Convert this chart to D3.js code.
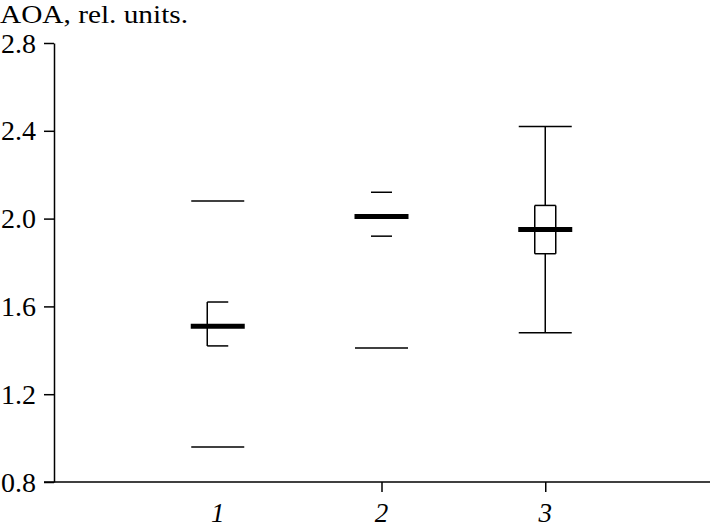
<!DOCTYPE html>
<html>
<head>
<meta charset="utf-8">
<script src="https://cdn.jsdelivr.net/npm/d3@7"></script>
<style>
  html, body { margin: 0; padding: 0; background: #fff; }
  svg { display: block; }
</style>
</head>
<body>
<svg id="chart" width="710" height="528"></svg>
<script>
// ---- data ----
const categories  = ["1", "2", "3"];
const whiskerLow  = [0.96, 1.41, 1.48];
const q1          = [1.42, 1.92, 1.84];
const median      = [1.51, 2.01, 1.95];
const q3          = [1.62, 2.12, 2.06];
const whiskerHigh = [2.08, null, 2.42];
// which parts of each box are drawn in the original
const boxLeft     = [true, false, true];
const boxRight    = [false, false, true];
const stems       = [false, false, true];
const yTicks      = [0.8, 1.2, 1.6, 2.0, 2.4, 2.8];
const xTicked     = [2, 3];
const yTitle      = "AOA, rel. units.";

// ---- layout ----
const FONT = "Liberation Serif, DejaVu Serif, serif";
const svg = d3.select("#chart");
const x = d3.scaleLinear().domain([0, 4]).range([54, 709]);
const y = d3.scaleLinear().domain([0.8, 2.8]).range([482, 43]);
const thin = 1.5, boxHalf = 10.5, capHalf = 26.5, medHalf = 27;

// y axis
const yAxis = d3.axisLeft(y).tickValues(yTicks).tickFormat(d3.format(".1f"))
  .tickSize(10).tickSizeOuter(0).tickPadding(8);
const gy = svg.append("g").attr("transform", `translate(${x(0)},0)`).call(yAxis)
  .attr("font-family", FONT).attr("font-size", 27);
gy.selectAll("path, line").attr("stroke", "#000").attr("stroke-width", thin);
gy.selectAll("text").attr("fill", "#000").style("font-family", FONT)
  .style("font-size", "27px").attr("dy", "0.34em")
  .attr("textLength", 35).attr("lengthAdjust", "spacingAndGlyphs");

// x axis
svg.append("line").attr("x1", 44).attr("x2", 710)
  .attr("y1", y(0.8)).attr("y2", y(0.8))
  .attr("stroke", "#000").attr("stroke-width", thin);
const xAxis = d3.axisBottom(x).tickValues(xTicked).tickFormat("").tickSize(10).tickSizeOuter(0);
const gx = svg.append("g").attr("transform", `translate(0,${y(0.8)})`).call(xAxis);
gx.select("path.domain").remove();
gx.selectAll("line").attr("stroke", "#000").attr("stroke-width", thin);

svg.selectAll("text.xlab").data(categories).join("text")
  .attr("class", "xlab")
  .attr("x", (d, i) => x(i + 1))
  .attr("y", 522)
  .attr("text-anchor", "middle")
  .style("font-family", FONT)
  .style("font-size", "27px")
  .style("font-style", "italic")
  .attr("fill", "#000")
  .text(d => d);

// title
svg.append("text").attr("x", 0).attr("y", 23)
  .style("font-family", FONT).style("font-size", "25.5px").attr("fill", "#000")
  .attr("textLength", 188).attr("lengthAdjust", "spacingAndGlyphs")
  .text(yTitle);

// boxes
const g = svg.append("g").attr("stroke", "#000").attr("fill", "none");
categories.forEach((c, i) => {
  const cx = x(i + 1);
  const seg = (x1, y1, x2, y2, w) => g.append("line")
    .attr("x1", x1).attr("y1", y1).attr("x2", x2).attr("y2", y2)
    .attr("stroke-width", w || thin);
  // whisker caps
  if (whiskerHigh[i] != null) seg(cx - capHalf, y(whiskerHigh[i]), cx + capHalf, y(whiskerHigh[i]));
  if (whiskerLow[i] != null) seg(cx - capHalf, y(whiskerLow[i]), cx + capHalf, y(whiskerLow[i]));
  // stems
  if (stems[i]) {
    seg(cx, y(whiskerHigh[i]), cx, y(q3[i]));
    seg(cx, y(q1[i]), cx, y(whiskerLow[i]));
  }
  // box edges
  seg(cx - boxHalf, y(q3[i]), cx + boxHalf, y(q3[i]));
  seg(cx - boxHalf, y(q1[i]), cx + boxHalf, y(q1[i]));
  if (boxLeft[i]) seg(cx - boxHalf, y(q3[i]), cx - boxHalf, y(q1[i]));
  if (boxRight[i]) seg(cx + boxHalf, y(q3[i]), cx + boxHalf, y(q1[i]));
  // median
  seg(cx - medHalf, y(median[i]), cx + medHalf, y(median[i]), 5);
});
</script>
</body>
</html>
